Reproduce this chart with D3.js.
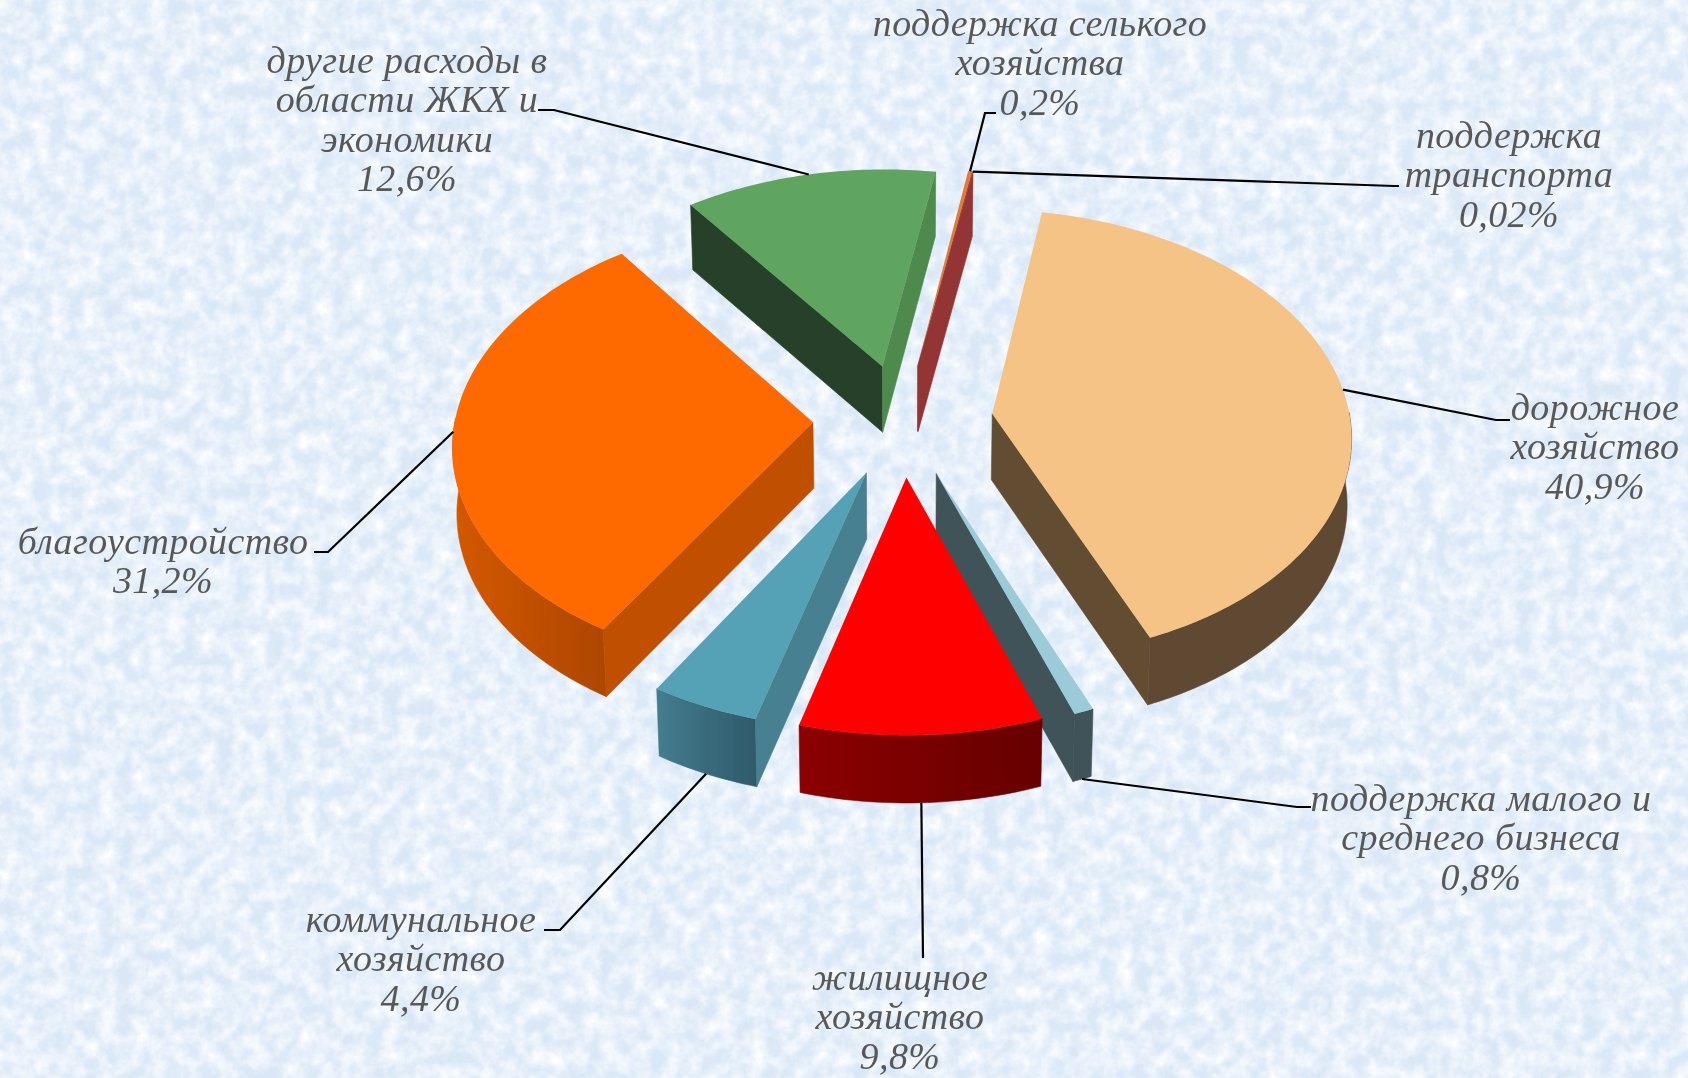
<!DOCTYPE html>
<html>
<head>
<meta charset="utf-8">
<script src="https://cdnjs.cloudflare.com/ajax/libs/d3/7.8.5/d3.min.js"></script>
<style>
html,body{margin:0;padding:0;background:#d9e7f6;overflow:hidden}
text{font-family:"Liberation Serif",serif;font-style:italic;fill:#595959}
</style>
</head>
<body>
<div id="canva"></div>
<script>
var categories = [
	["дорожное","хозяйство"],
	["поддержка малого и","среднего бизнеса"],
	["жилищное","хозяйство"],
	["коммунальное","хозяйство"],
	["благоустройство"],
	["другие расходы в","области ЖКХ и","экономики"],
	["поддержка селького","хозяйства"],
	["поддержка","транспорта"]
];
var values = [40.9,0.8,9.8,4.4,31.2,12.6,0.2,0.02];

var topColors = ["#f6c386","#9bcad9","#ff0000","#55a2b7","#ff6a00","#5fa560","#e07b39","#c0504d"];
var startWallColors = ["#634d32","#3f5259","#6a0000","#468091","#c05000","#26412a","#943634","#943634"];
var endWallColors = ["#634d32","#3f5259","#6a0000","#468091","#c05000","#4f8a4d","#943634","#943634"];
var arcDark = ["#604a30","#3f5259","#660000","#2f5a6a","#ae4700","#26412a","#943634","#943634"];
var arcLight = ["#604a30","#3f5259","#8c0000","#437d8f","#d45800","#26412a","#943634","#943634"];

// label layout: centre x, first baseline, leader elbow and end of leader
var labelX = [1595,1481,900,421,163,407,1040,1509];
var labelY = [420,811,990,932,554,73,36,148];
var leaderElbow = [[1496,420],[1297,807],[923,958],[560,930],[328,552],[554,110],[985,113],[1394,186]];
var leaderEnd = [[1510,420],[1311,807],[923,958],[544,930],[314,552],[538,110],[996,113],[1399,186]];

var width = 1688, height = 1078;
var cx = 903, cy = 420;
var radius = 358, explode = 90, depth = 66;
var tilt = 0.625, persp = 0.00025;
var lineStep = 39.4;

var svg = d3.select("#canva")
	.append("svg")
	.attr("width",width)
	.attr("height",height)
	.style("display","block");

var defs = svg.append("defs");

function noise(id,freq,seed,matrix){
	var f = defs.append("filter")
		.attr("id",id)
		.attr("x",0).attr("y",0).attr("width","100%").attr("height","100%");
	f.append("feTurbulence")
		.attr("type","fractalNoise")
		.attr("baseFrequency",freq)
		.attr("numOctaves",4)
		.attr("seed",seed);
	f.append("feColorMatrix")
		.attr("type","matrix")
		.attr("values",matrix);
}
noise("lightNoise",0.06,4,"0 0 0 0 1  0 0 0 0 1  0 0 0 0 1  1.7 0 0 0 -0.5");
noise("darkNoise",0.025,9,"0 0 0 0 0.72  0 0 0 0 0.83  0 0 0 0 0.95  0 1.3 0 0 -0.5");

defs.append("filter").attr("id","soft")
	.append("feGaussianBlur").attr("stdDeviation",0.45);

svg.append("rect").attr("width",width).attr("height",height).attr("fill","#d9e7f6");
svg.append("rect").attr("width",width).attr("height",height).attr("filter","url(#darkNoise)");
svg.append("rect").attr("width",width).attr("height",height).attr("filter","url(#lightNoise)");

// angles go clockwise from the back of the pie
var pie = d3.pie().sort(null).value(function(d){return d;})
	.startAngle(10*Math.PI/180)
	.endAngle(370*Math.PI/180);

var slices = pie(values).map(function(d,i){
	var mid = (d.startAngle+d.endAngle)/2;
	return {
		i:i,
		a0:d.startAngle,
		a1:d.endAngle,
		mid:mid,
		ox:explode*Math.sin(mid),
		oy:-explode*Math.cos(mid)
	};
});

// disc coordinates to screen, near side is drawn bigger
function project(x,y){
	var f = 1/(1-persp*y);
	return [cx+x*f, cy+y*tilt*f, f];
}
function topPoint(s,r,a){
	return project(s.ox+r*Math.sin(a), s.oy-r*Math.cos(a));
}
function lower(p){
	return [cx+(p[0]-cx)*0.99, p[1]+depth*(1+(p[2]-1)*0.2)];
}
function poly(points){
	return "M"+points.map(function(p){return p[0]+","+p[1];}).join("L")+"Z";
}

var g = svg.append("g").attr("filter","url(#soft)");

slices.slice().sort(function(a,b){return a.oy-b.oy;}).forEach(function(s){
	var apex = topPoint(s,0,s.a0);
	var steps = Math.max(2,Math.ceil((s.a1-s.a0)/(Math.PI/180)));
	var rim = d3.range(steps+1).map(function(k){
		return s.a0+(s.a1-s.a0)*k/steps;
	});
	var rimMid = topPoint(s,radius,s.mid);
	var one = g.append("g");

	// outer wall, only the near part of the rim can be seen
	var front = rim.filter(function(a){return Math.cos(a) <= 0.02;});
	if (front.length > 1){
		var pts = front.map(function(a){return topPoint(s,radius,a);});
		var shadeEnd = Math.min(s.a1,1.5*Math.PI);
		var id = "arc"+s.i;
		var grad = defs.append("linearGradient")
			.attr("id",id)
			.attr("gradientUnits","userSpaceOnUse")
			.attr("x1",topPoint(s,radius,front[0])[0])
			.attr("x2",topPoint(s,radius,shadeEnd)[0])
			.attr("y1",0).attr("y2",0);
		grad.append("stop").attr("offset",0).attr("stop-color",arcDark[s.i]);
		grad.append("stop").attr("offset",1).attr("stop-color",arcLight[s.i]);
		one.append("path")
			.attr("d",poly(pts.concat(pts.map(lower).reverse())))
			.attr("fill","url(#"+id+")")
			.attr("stroke","url(#"+id+")")
			.attr("stroke-width",0.6);
	}

	// cut faces, drawn only when the drop goes away from the top of the slice
	[[s.a0,startWallColors[s.i]],[s.a1,endWallColors[s.i]]].forEach(function(w){
		var o = topPoint(s,radius,w[0]);
		var ex = o[0]-apex[0], ey = o[1]-apex[1];
		var inner = ex*(rimMid[1]-apex[1])-ey*(rimMid[0]-apex[0]);
		if (ex*inner < 0 || s.a1-s.a0 < 0.001){
			one.append("path")
				.attr("d",poly([apex,o,lower(o),lower(apex)]))
				.attr("fill",w[1])
				.attr("stroke",w[1])
				.attr("stroke-width",0.6);
		}
	});

	one.append("path")
		.attr("d",poly([apex].concat(rim.map(function(a){return topPoint(s,radius,a);}))))
		.attr("fill",topColors[s.i]);
});

// leaders start on the rim at the middle of the slice
var line = d3.line();
svg.append("g").selectAll("path")
	.data(slices)
	.enter()
	.append("path")
	.attr("fill","none")
	.attr("stroke","#000")
	.attr("stroke-width",2.2)
	.attr("d",function(s){
		var start = topPoint(s,radius,s.mid);
		if (Math.cos(s.mid) < -0.5) start = lower(start);
		return line([[start[0],start[1]],leaderElbow[s.i],leaderEnd[s.i]]);
	});

var labels = svg.append("g").attr("filter","url(#soft)");
categories.forEach(function(lines,i){
	var all = lines.concat([String(values[i]).replace(".",",")+"%"]);
	labels.selectAll(null)
		.data(all)
		.enter()
		.append("text")
		.attr("x",labelX[i])
		.attr("y",function(d,k){return labelY[i]+k*lineStep;})
		.attr("text-anchor","middle")
		.attr("font-size",38)
		.attr("letter-spacing",0.4)
		.text(function(d){return d;});
});
</script>
</body>
</html>
